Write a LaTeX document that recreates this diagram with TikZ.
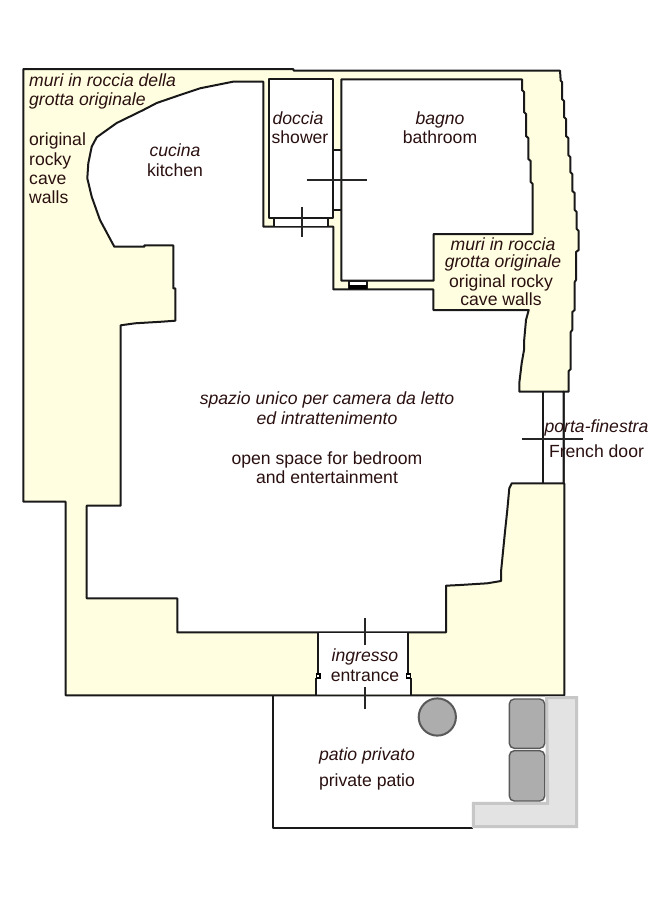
\documentclass[tikz,border=0pt]{standalone}
\usepackage{fontspec}
\setmainfont{Liberation Sans}
\definecolor{rock}{HTML}{FFFEE0}
\definecolor{inktext}{HTML}{2A1010}

\begin{document}
\begin{tikzpicture}[x=1pt,y=-1pt]
    \tikzstyle{every node}=[font=\fontsize{17.6}{20}\selectfont,text=inktext,inner sep=0pt,anchor=base]
    \tikzstyle{wall}=[line width=2pt,black!90,line join=round]
    \tikzstyle{doormark}=[line width=1.8pt,black!85]
    \tikzstyle{it}=[font=\fontsize{17.6}{20}\selectfont\itshape]
    \useasboundingbox[fill=white] (0,0) rectangle (668,900);

    % rock, outer line
    \draw[wall,fill=rock] (23.3,69) -- (293,69) -- (294,70.7) -- (560,70.7) -- (560.7,80.7)
    -- (562,82) -- (562,99) -- (564,101) -- (564,117) -- (566,119) -- (566,136) -- (568.3,138)
    -- (568.3,155) -- (570.3,157) -- (570.3,172) -- (572.3,174) -- (572.3,191) -- (574.7,193)
    -- (574.7,210) -- (576.7,212) -- (576.7,229) -- (578.7,231) -- (578.7,250) -- (576,252)
    -- (576,280) -- (574.7,282) -- (574.7,310) -- (572.3,312) -- (572.3,330) -- (570.7,332)
    -- (570.7,369) -- (568.7,371) -- (568.7,391.7) -- (563.5,391.7)
    -- (563.5,483.3) -- (564.3,483.3) -- (564.3,695.3) -- (65.7,695.3) -- (65.7,501.7) -- (23.3,501.7) -- cycle;

    % kitchen and big room
    \draw[wall,fill=white] (263.3,81.7) -- (233,81.7) -- (200,88.3) -- (180,95) -- (156.7,103)
    -- (143.3,110) -- (116.7,123) -- (96.7,137.3) -- (91.7,146.7) -- (88.3,163.3) -- (87.3,178.3)
    -- (91.7,196.7) -- (100,220) -- (114.3,246.7) -- (144.3,246.7) -- (144.3,245.3) -- (173.3,245.3)
    -- (173.3,288.3) -- (175.3,288.3) -- (175.3,320.7) -- (161.7,321.7) -- (135,323.3) -- (120.7,325.3)
    -- (120.7,505.7) -- (86.7,505.7) -- (86.7,598.3) -- (177.3,598.3) -- (177.3,632.3) -- (446,632.3)
    -- (446,585.7) -- (460,585) -- (487.3,583.3) -- (501,581) -- (501,572) -- (503,551.7) -- (505,531.7)
    -- (507.3,510) -- (509.3,488.3) -- (511.7,483.3) -- (563.5,483.3) -- (563.5,391.7) -- (519.3,391.7)
    -- (519.3,383) -- (521.7,363) -- (524,350) -- (524,342) -- (526,320) -- (528.7,310) -- (433.3,310)
    -- (433.3,289.3) -- (333.3,289.3) -- (333.3,226.7) -- (263.3,226.7) -- cycle;
    \draw[wall] (542.7,391.7) -- (542.7,483.3);

    % shower
    \draw[wall,fill=white] (269.3,79.3) rectangle (332.7,217.7);
    \draw[wall] (274,217.7) -- (274,226.7);
    \draw[wall] (328.3,217.7) -- (328.3,226.7);
    \fill[white] (275,218.7) rectangle (327.3,225.7);

    % bathroom
    \draw[wall,fill=white] (341.3,79.3) -- (522,79.3) -- (522,90) -- (524,92) -- (524,112) -- (526,114)
    -- (526,136) -- (528.3,138) -- (528.3,159) -- (530.7,161) -- (530.7,182) -- (532.7,184)
    -- (532.7,234) -- (433.7,234) -- (433.7,280.7) -- (341.3,280.7) -- cycle;

    % door between shower and bathroom, window
    \fill[white] (333.7,150) rectangle (340.3,210);
    \draw[wall] (332.7,150) -- (341.3,150);
    \draw[wall] (332.7,210) -- (341.3,210);
    \draw[wall,fill=white] (349.3,280.7) rectangle (366.7,289.3);
    \fill[black] (349.3,284.5) rectangle (366.7,289.3);

    % entrance
    \fill[white] (317.7,633) -- (408.3,633) -- (408.3,674) -- (411,674) -- (411,694.3) -- (316,694.3) -- (316,674) -- (317.7,674) -- cycle;
    \draw[wall] (317.7,632.3) -- (317.7,674);
    \draw[wall] (316,678) -- (316,695.3);
    \draw[wall] (408.3,632.3) -- (408.3,674);
    \draw[wall] (411,678) -- (411,695.3);
    \draw[line width=1.2pt,fill=white] (316.3,674) rectangle (320,678);
    \draw[line width=1.2pt,fill=white] (406.7,674) rectangle (410.6,678);

    % patio
    \draw[wall] (273.3,695.3) -- (273.3,828) -- (473.3,828);
    \draw[line width=3pt,draw=black!22,fill=black!11] (546.7,697.7) -- (576.7,697.7) -- (576.7,826.5) -- (473.3,826.5) -- (473.3,803.3) -- (547.7,803.3) -- cycle;
    \draw[line width=1.4pt,draw=black!65,fill=black!32,rounded corners=5pt] (509.3,699) rectangle (544.7,748.3);
    \draw[line width=1.4pt,draw=black!65,fill=black!32,rounded corners=5pt] (509.3,750.7) rectangle (544.7,801);
    \draw[line width=2pt,draw=black!65,fill=black!32] (437.3,717) circle (18.6);

    % door marks
    \draw[doormark] (306.7,180) -- (367.3,180);
    \draw[doormark] (301.7,206.7) -- (301.7,237.3);
    \draw[doormark] (521.7,439.3) -- (583.3,439.3);
    \draw[doormark] (364.7,618.3) -- (364.7,645);
    \draw[doormark] (364.7,687.3) -- (364.7,708.7);

    \node[it,anchor=base west] (muri1) at (29,86) {muri in roccia della};
    \node[it,anchor=base west] (grotta1) at (29,105) {grotta originale};
    \node[anchor=base west] (orig1) at (29,145) {original};
    \node[anchor=base west] (rocky1) at (29,165) {rocky};
    \node[anchor=base west] (cave1) at (29,184) {cave};
    \node[anchor=base west] (walls1) at (29,203) {walls};

    \node[it] (cucina) at (175,156) {cucina};
    \node (kitchen) at (175,176) {kitchen};
    \node[it] (doccia) at (298,124) {doccia};
    \node (shower) at (300,143) {shower};
    \node[it] (bagno) at (440,124) {bagno};
    \node (bathroom) at (440,143) {bathroom};

    \node[it] (muri2) at (503,250.7) {muri in roccia};
    \node[it] (grotta2) at (503,267) {grotta originale};
    \node (orig2) at (501,287.7) {original rocky};
    \node (walls2) at (501,305.7) {cave walls};

    \node[it] (spazio) at (327,404.5) {spazio unico per camera da letto};
    \node[it] (intratt) at (327,424) {ed intrattenimento};
    \node (openspace) at (327,464.3) {open space for bedroom};
    \node (entert) at (327,483.7) {and entertainment};

    \node[it] (porta) at (596.5,432) {porta-finestra};
    \node (french) at (596.5,457.7) {French door};
    \node[it] (ingresso) at (365,661.7) {ingresso};
    \node (entrance) at (365,681.3) {entrance};
    \node[it] (patio) at (367,760) {patio privato};
    \node (privpatio) at (367,786) {private patio};
\end{tikzpicture}
\end{document}
